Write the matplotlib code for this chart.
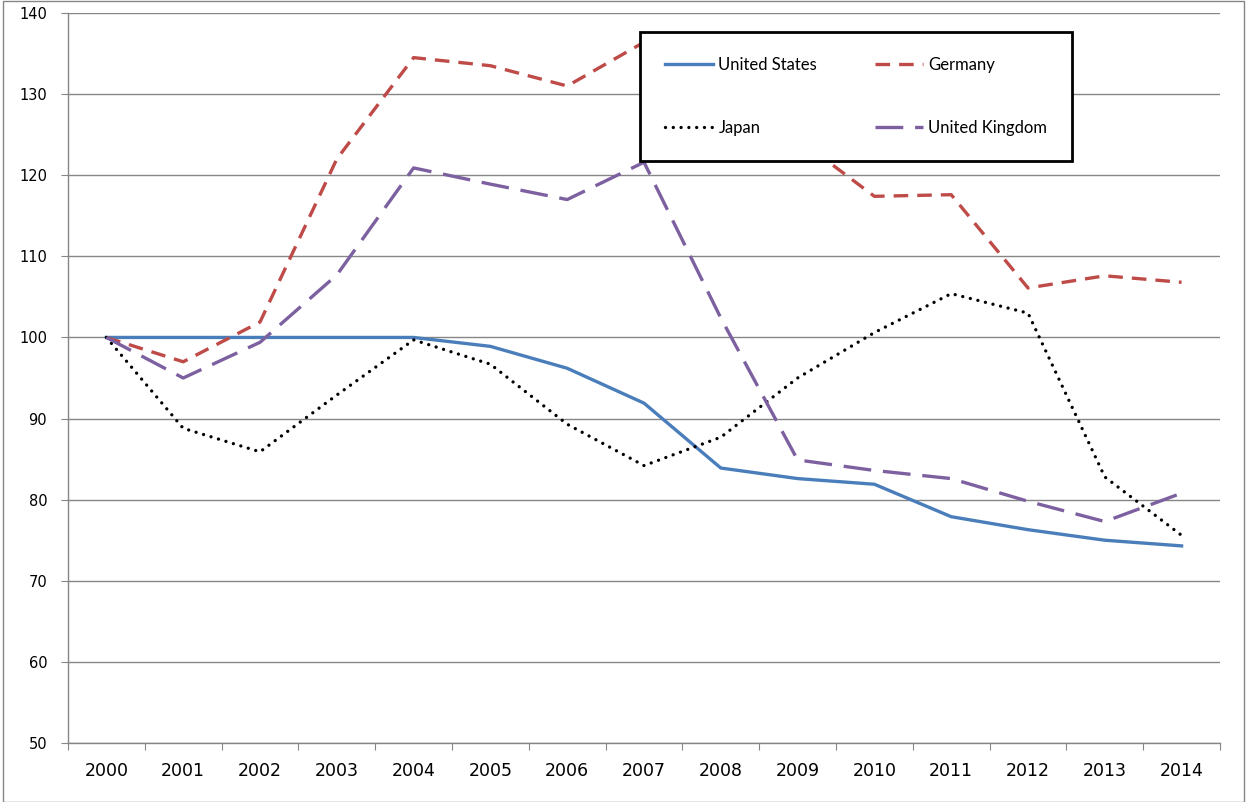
import matplotlib
matplotlib.use("Agg")
import matplotlib.pyplot as plt
from matplotlib.patches import Rectangle
from matplotlib.ticker import FixedLocator, NullFormatter

years = ['2000', '2001', '2002', '2003', '2004', '2005', '2006', '2007',
         '2008', '2009', '2010', '2011', '2012', '2013', '2014']
united_states = [100, 100, 100, 100, 100, 98.9, 96.2, 91.9, 83.9, 82.6, 81.9, 77.9, 76.3, 75.0, 74.3]
germany = [100, 97.0, 101.9, 122.0, 134.5, 133.5, 131.0, 136.4, 137.0, 124.5, 117.4, 117.6, 106.1, 107.6, 106.8]
japan = [100, 88.8, 85.9, 92.9, 99.7, 96.7, 89.3, 84.2, 87.7, 95.0, 100.6, 105.4, 103.0, 82.8, 75.6]
united_kingdom = [100, 95.0, 99.4, 107.7, 120.9, 118.9, 117.0, 121.6, 102.4, 84.9, 83.6, 82.6, 79.8, 77.3, 80.8]

plt.rcParams['lines.scale_dashes'] = False

fig = plt.figure(figsize=(12.47, 8.02), dpi=100)
ax = fig.add_axes([68 / 1247, 59 / 802, 1152 / 1247, 730 / 802])

x = list(range(len(years)))
lw = 2.4
l_us, = ax.plot(x, united_states, color='#4a7ebb', lw=lw, label='United States',
                solid_joinstyle='round', zorder=3)
l_de, = ax.plot(x, germany, color='#be4b48', lw=lw, label='Germany',
                linestyle=(0, (10.5, 6.5)), zorder=3)
l_jp, = ax.plot(x, japan, color='black', lw=lw, label='Japan',
                linestyle=(0, (0.01, 5.6)), dash_capstyle='round', zorder=3)
l_uk, = ax.plot(x, united_kingdom, color='#7d60a0', lw=lw, label='United Kingdom',
                linestyle=(0, (20, 8.5)), zorder=3)

ax.set_xlim(-0.5, len(years) - 0.5)
ax.set_ylim(50, 140)
ax.set_yticks(range(50, 141, 10))
ax.yaxis.grid(True, color='#868686', lw=1)
ax.set_axisbelow(True)

# category axis: tick marks between categories, labels at centres
ax.xaxis.set_major_locator(FixedLocator([i - 0.5 for i in range(len(years) + 1)]))
ax.xaxis.set_major_formatter(NullFormatter())
ax.xaxis.set_minor_locator(FixedLocator(x))
ax.set_xticklabels(years, minor=True, family=['Liberation Sans Narrow', 'DejaVu Sans'],
                   fontsize=12.5)
ax.tick_params(axis='x', which='major', length=5, color='#868686', direction='out')
ax.tick_params(axis='x', which='minor', length=0, pad=14)
ax.tick_params(axis='y', length=5, color='#868686', direction='out', labelsize=10.5, pad=10)

for side in ['top', 'right']:
    ax.spines[side].set_visible(False)
for side in ['left', 'bottom']:
    ax.spines[side].set_color('#868686')
    ax.spines[side].set_linewidth(1)

# legend fills column by column, so order gives rows US/Germany, Japan/UK
leg = ax.legend([l_us, l_jp, l_de, l_uk],
                ['United States', 'Japan', 'Germany', 'United Kingdom'],
                ncol=2, loc='upper left',
                bbox_to_anchor=(572 / 1152, 1 - 145 / 730, 432 / 1152, 126 / 730),
                mode='expand', borderaxespad=0, frameon=True, fancybox=False,
                handlelength=2.9, handletextpad=0.3, labelspacing=2.8, borderpad=1.5,
                columnspacing=2.0, prop={'family': ['Lato', 'DejaVu Sans'], 'size': 12})
leg.get_frame().set_edgecolor('black')
leg.get_frame().set_linewidth(2)
leg.get_frame().set_alpha(1)

fig.patches.append(Rectangle((3 / 1247, 0), 1 - 6 / 1247, 1 - 1 / 802,
                             transform=fig.transFigure, fill=False,
                             edgecolor='#868686', lw=1))

fig.savefig('out.png', dpi=100)
